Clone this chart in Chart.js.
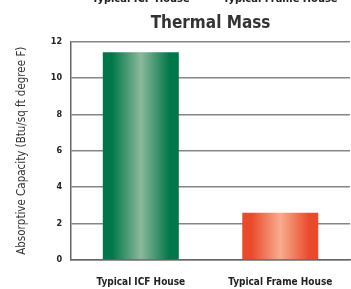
<!DOCTYPE html>
<html>
<head>
<meta charset="utf-8">
<script src="https://cdn.jsdelivr.net/npm/chart.js@4"></script>
<style>
  html, body { margin: 0; padding: 0; background: #fff; }
  #wrap { width: 351px; height: 289px; }
</style>
</head>
<body>
<div id="wrap"><canvas id="thermalChart" width="351" height="289"></canvas></div>
<script>
// data
const categories = ["Typical ICF House", "Typical Frame House"];
const capacity = [11.4, 2.6];
const yTicks = [0, 2, 4, 6, 8, 10, 12];

const FONT = "'Liberation Sans Narrow', 'DejaVu Sans Condensed', 'Roboto', sans-serif";
const BAR_PCT = 0.545;

// gradient per bar: dark edges, light middle
const shades = [
  ["#00774a", "#8bb99c"],
  ["#ea4a2c", "#f7ad8e"]
];

function barFill(ctx) {
  const chart = ctx.chart;
  const x = chart.scales.x;
  const s = shades[ctx.dataIndex] || shades[0];
  if (!x || ctx.dataIndex === undefined) return s[0];
  const cx = x.getPixelForValue(ctx.dataIndex);
  const w = (x.width / categories.length) * BAR_PCT;
  if (!isFinite(cx) || !isFinite(w) || w <= 0) return s[0];
  const g = chart.ctx.createLinearGradient(cx - w / 2, 0, cx + w / 2, 0);
  g.addColorStop(0, s[0]);
  g.addColorStop(0.12, s[0]);
  g.addColorStop(0.5, s[1]);
  g.addColorStop(0.88, s[0]);
  g.addColorStop(1, s[0]);
  return g;
}

// cut-off legend text at the very top of the image
const topLabels = {
  id: "topLabels",
  afterDraw(chart) {
    const c = chart.ctx;
    const x = chart.scales.x;
    c.save();
    c.font = "bold 11px " + FONT;
    c.fillStyle = "#222";
    c.textAlign = "center";
    c.textBaseline = "alphabetic";
    categories.forEach((name, i) => {
      c.fillText(name, x.getPixelForValue(i), 2);
    });
    c.restore();
  }
};

new Chart(document.getElementById("thermalChart"), {
  type: "bar",
  data: {
    labels: categories,
    datasets: [{
      data: capacity,
      backgroundColor: barFill,
      borderWidth: 0,
      barPercentage: BAR_PCT,
      categoryPercentage: 1
    }]
  },
  options: {
    responsive: false,
    animation: false,
    layout: { padding: { top: 0, right: 1, left: 15, bottom: -15 } },
    plugins: {
      legend: { display: false },
      tooltip: { enabled: false },
      title: {
        display: true,
        fullSize: false,
        text: "Thermal Mass",
        color: "#333",
        font: { family: FONT, size: 17, weight: "bold" },
        padding: { top: 13, bottom: 8 }
      }
    },
    scales: {
      x: {
        grid: { display: false, drawTicks: false },
        border: { display: true, color: "#666", width: 1.5 },
        ticks: {
          color: "#222",
          font: { family: FONT, size: 10, weight: "bold" },
          padding: 16,
          maxRotation: 0
        }
      },
      y: {
        min: 0,
        max: 12,
        afterBuildTicks(axis) {
          axis.ticks = yTicks.map(v => ({ value: v }));
        },
        grid: { color: "#858585", lineWidth: 1.5, drawTicks: false },
        border: { display: true, color: "#666", width: 1.5 },
        ticks: {
          color: "#222",
          font: { family: FONT, size: 9, weight: "bold" },
          padding: 9
        },
        title: {
          display: true,
          text: "Absorptive Capacity (Btu/sq ft degree F)",
          color: "#333",
          font: { family: FONT, size: 11.5 },
          padding: { top: 0, bottom: 13 }
        }
      }
    }
  },
  plugins: [topLabels]
});
</script>
</body>
</html>
